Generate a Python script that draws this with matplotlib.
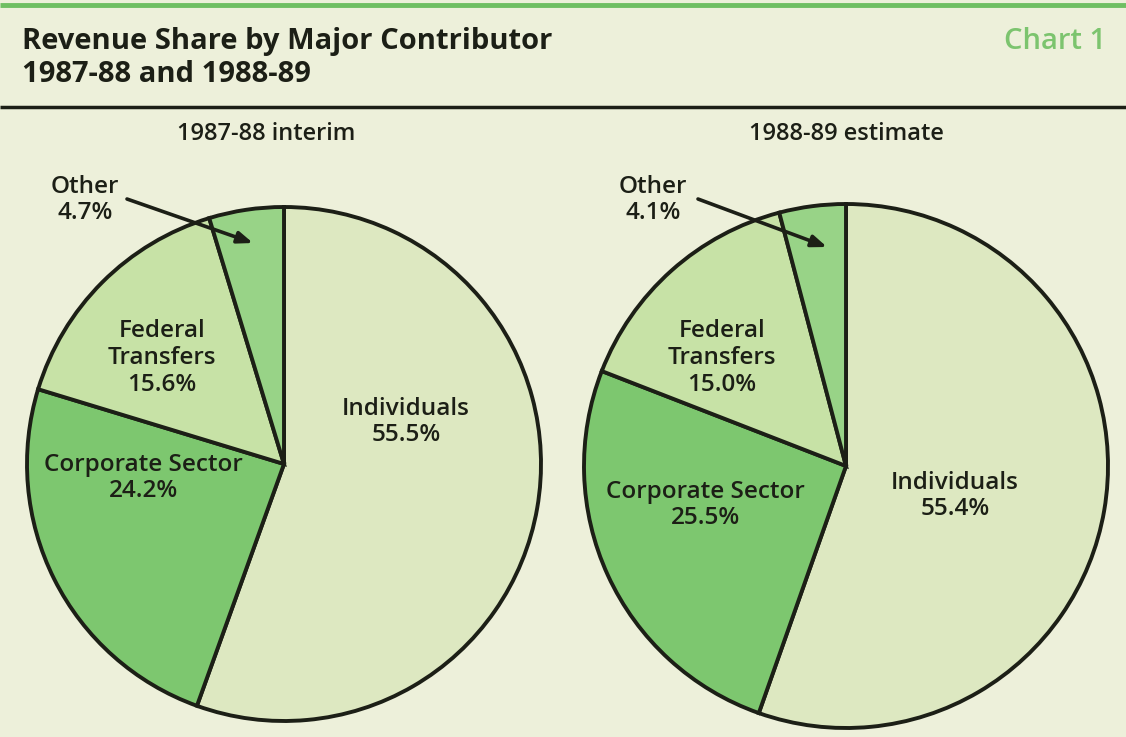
import matplotlib.pyplot as plt

# data
categories = ["Individuals", "Corporate Sector", "Federal\nTransfers", "Other"]
shares_8788 = [55.5, 24.2, 15.6, 4.7]
shares_8889 = [55.4, 25.5, 15.0, 4.1]
pie_titles = ["1987-88 interim", "1988-89 estimate"]

W, H = 1126, 737
bg = "#edf0da"
fills = ["#dde8c1", "#7dc76f", "#c7e2a6", "#98d387"]
ink = "#1c1f16"

plt.rcParams['font.family'] = ['Open Sans', 'DejaVu Sans']

fig = plt.figure(figsize=(W / 100, H / 100), dpi=100, facecolor=bg)
ax = fig.add_axes([0, 0, 1, 1])


def py(y):
    # pixel row (from top) to data y
    return H - y


# header rules
ax.plot([0, W], [py(5), py(5)], color="#6fbf62", lw=3.5, solid_capstyle='butt')
ax.plot([0, W], [py(107), py(107)], color=ink, lw=2.5, solid_capstyle='butt')

ax.text(22, py(49), "Revenue Share by Major Contributor", fontsize=21,
        fontweight='bold', color=ink, va='baseline', ha='left')
ax.text(22, py(82), "1987-88 and 1988-89", fontsize=21,
        fontweight='bold', color=ink, va='baseline', ha='left')
ax.text(1106, py(49), "Chart 1", fontsize=21, fontweight='semibold',
        color="#7cc46e", va='baseline', ha='right')

centers = [(284, 464), (846, 466)]
radii = [257, 262]
title_x = [266, 846]
label_pos = [
    [(406, 422), (143, 478), (162, 358), (85, 200)],
    [(955, 496), (705, 505), (722, 358), (653, 200)],
]
arrows = [((127, 199), (253, 243)), ((698, 199), (827, 247))]

for i, shares in enumerate([shares_8788, shares_8889]):
    cx, cy = centers[i]
    ax.pie(shares, colors=fills, startangle=90, counterclock=False,
           center=(cx, py(cy)), radius=radii[i], frame=True,
           wedgeprops=dict(edgecolor=ink, linewidth=2.8))
    ax.text(title_x[i], py(134), pie_titles[i], fontsize=17, fontweight='semibold',
            color=ink, ha='center', va='center')
    for cat, val, (lx, ly) in zip(categories, shares, label_pos[i]):
        ax.text(lx, py(ly), f"{cat}\n{val:.1f}%", fontsize=17.5,
                fontweight='semibold', color=ink, ha='center', va='center',
                linespacing=1.15)
    (x0, y0), (x1, y1) = arrows[i]
    ax.annotate("", xy=(x1, py(y1)), xytext=(x0, py(y0)),
                arrowprops=dict(arrowstyle='-|>,head_length=0.9,head_width=0.35',
                                color=ink, lw=2.6, shrinkA=0, shrinkB=0))

ax.set_xlim(0, W)
ax.set_ylim(0, H)
ax.set_aspect('equal')
ax.axis('off')

plt.savefig('out.png', dpi=100, facecolor=bg)
plt.close()
